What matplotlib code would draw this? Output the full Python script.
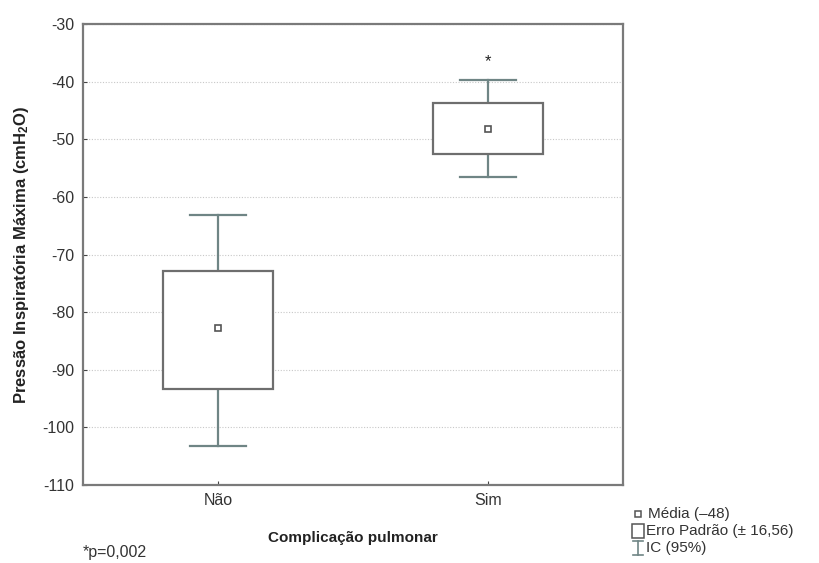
import matplotlib
matplotlib.use("Agg")
import matplotlib.pyplot as plt
from matplotlib.lines import Line2D
from matplotlib.patches import Rectangle

plt.rcParams['font.family'] = ['Liberation Sans', 'DejaVu Sans']
plt.rcParams['axes.unicode_minus'] = False

# Dados
grupos = ["Não", "Sim"]
media = [-82.8, -48.2]
ep_sup = [-72.9, -43.7]   # média + erro padrão
ep_inf = [-93.3, -52.5]   # média - erro padrão
ic_sup = [-63.1, -39.7]   # IC 95% superior
ic_inf = [-103.2, -56.5]  # IC 95% inferior
asterisco_y = -36.5

cor_caixa = '#6e6e6e'
cor_bigode = '#6f8585'

fig = plt.figure(figsize=(8.2, 5.63), dpi=100)
ax = fig.add_axes([0.101, 0.1385, 0.659, 0.8185])

largura = 0.41
cap = 0.21
for i in range(len(grupos)):
    # bigodes (IC 95%)
    ax.plot([i, i], [ic_inf[i], ep_inf[i]], color=cor_bigode, lw=1.6, zorder=2)
    ax.plot([i, i], [ep_sup[i], ic_sup[i]], color=cor_bigode, lw=1.6, zorder=2)
    ax.plot([i - cap / 2, i + cap / 2], [ic_inf[i]] * 2, color=cor_bigode, lw=1.6, zorder=2)
    ax.plot([i - cap / 2, i + cap / 2], [ic_sup[i]] * 2, color=cor_bigode, lw=1.6, zorder=2)
    # caixa (erro padrão)
    ax.add_patch(Rectangle((i - largura / 2, ep_inf[i]), largura, ep_sup[i] - ep_inf[i],
                           facecolor='white', edgecolor=cor_caixa, lw=1.6, zorder=3))
    # média
    ax.plot(i, media[i], marker='s', ms=4.5, mfc='white', mec='#555555', mew=1.2, zorder=4)

ax.text(1, asterisco_y, '*', ha='center', va='center', fontsize=12, color='#222222')

ax.set_xlim(-0.5, 1.5)
ax.set_ylim(-110, -30)
ax.set_xticks(range(len(grupos)))
ax.set_xticklabels(grupos)
ax.set_yticks(range(-110, -29, 10))
ax.yaxis.grid(True, linestyle=(0, (1, 1.5)), color='#c8c8c8', lw=0.8)
ax.set_axisbelow(True)
for s in ax.spines.values():
    s.set_color('#7a7a7a')
    s.set_linewidth(1.6)
ax.tick_params(direction='in', length=3, color='#444444', labelsize=11.5, labelcolor='#333333', pad=6)

ax.set_xlabel('Complicação pulmonar', fontsize=11, fontweight='bold', color='#222222', labelpad=16)
ax.set_ylabel('Pressão Inspiratória Máxima (cmH$\\mathregular{_2}$O)', fontsize=12,
              fontweight='bold', color='#222222', labelpad=8)

fig.text(83 / 820, 1 - 552 / 563, '*p=0,002', fontsize=11.5, color='#333333', va='center', ha='left')

# legenda manual
W, H = 820, 563
def fx(x):
    return x / W
def fy(y):
    return 1 - y / H

fs_leg = 11
fig.add_artist(Line2D([fx(638)], [fy(514)], marker='s', ms=4, mfc='white', mec='#555555', mew=1.1))
fig.text(fx(648), fy(514), 'Média (\u201348)', fontsize=fs_leg, color='#333333', va='center')
fig.add_artist(Rectangle((fx(632), fy(538)), 12 / W, 14 / H, transform=fig.transFigure,
                         facecolor='white', edgecolor='#555555', lw=1.1))
fig.text(fx(646), fy(531), 'Erro Padrão (± 16,56)', fontsize=fs_leg, color='#333333', va='center')
fig.add_artist(Line2D([fx(638), fx(638)], [fy(541), fy(555)], color=cor_bigode, lw=1.2))
fig.add_artist(Line2D([fx(633), fx(643)], [fy(541), fy(541)], color=cor_bigode, lw=1.2))
fig.add_artist(Line2D([fx(633), fx(643)], [fy(555), fy(555)], color=cor_bigode, lw=1.2))
fig.text(fx(646), fy(548), 'IC (95%)', fontsize=fs_leg, color='#333333', va='center')

fig.savefig('out.png', dpi=100)
